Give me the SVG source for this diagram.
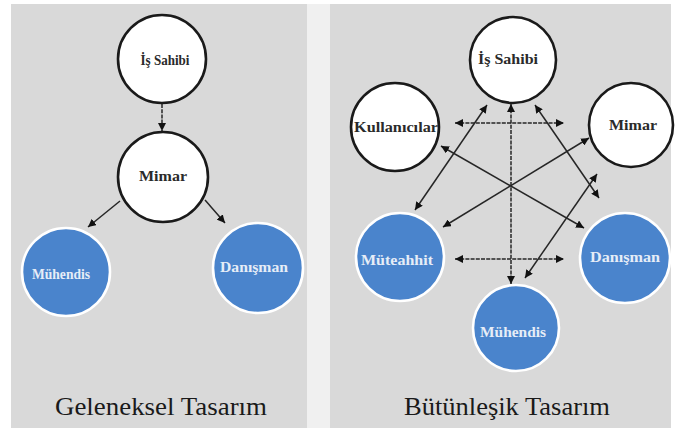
<svg xmlns="http://www.w3.org/2000/svg" width="675" height="436" viewBox="0 0 675 436">
  <style>
    .panel { fill: #d9d9d9; }
    .plain circle { fill: #ffffff; stroke: #1a1a1a; stroke-width: 2.6; }
    .plain text { fill: #2a2a2a; }
    .blue circle { fill: #4a84cc; stroke: #ffffff; stroke-width: 2.6; }
    .blue text { fill: #e6edf7; }
    text { font-family: "Liberation Serif", "Noto Serif", "DejaVu Serif", Tinos, FreeSerif, Times, serif; }
    .node text { font-weight: bold; font-size: 14px; text-anchor: middle; }
    .caption { font-size: 25px; fill: #1a1a1a; text-anchor: middle; }
    .link { stroke: #262626; stroke-width: 1.5; fill: none; }
    .dash { stroke-dasharray: 4 1.2; }
    .one { marker-end: url(#head); }
    .two { marker-start: url(#tail); marker-end: url(#head); }
  </style>
  <defs>
    <marker id="head" viewBox="0 0 10 10" refX="10" refY="5" markerWidth="8" markerHeight="8" markerUnits="userSpaceOnUse" orient="auto">
      <path d="M0,0 L10,5 L0,10 Z" fill="#111"/>
    </marker>
    <marker id="tail" viewBox="0 0 10 10" refX="0" refY="5" markerWidth="8" markerHeight="8" markerUnits="userSpaceOnUse" orient="auto">
      <path d="M10,0 L0,5 L10,10 Z" fill="#111"/>
    </marker>
  </defs>

  <!-- background panels -->
  <rect x="0" y="0" width="675" height="436" fill="#ffffff"/>
  <rect x="307" y="4" width="23" height="424" fill="#f0f0f0"/>
  <rect class="panel" x="11" y="4" width="296" height="424"/>
  <rect class="panel" x="330" y="4" width="341" height="424"/>

  <!-- traditional design: connectors -->
  <g id="connectors-left">
    <line class="link dash one" x1="162" y1="104" x2="162" y2="131"/>
    <line class="link one" x1="120" y1="201" x2="88" y2="227"/>
    <line class="link one" x1="205" y1="200" x2="225" y2="223"/>
  </g>

  <!-- traditional design: nodes -->
  <g id="left-is-sahibi" class="node plain">
    <circle cx="162" cy="59" r="44"/>
    <text x="165" y="65" textLength="49" lengthAdjust="spacingAndGlyphs">İş Sahibi</text>
  </g>
  <g id="left-mimar" class="node plain">
    <circle cx="163" cy="177" r="45"/>
    <text x="163" y="181" textLength="48" lengthAdjust="spacingAndGlyphs">Mimar</text>
  </g>
  <g id="left-muhendis" class="node blue">
    <circle cx="66" cy="272" r="44"/>
    <text x="61" y="279" textLength="58" lengthAdjust="spacingAndGlyphs">Mühendis</text>
  </g>
  <g id="left-danisman" class="node blue">
    <circle cx="258" cy="268" r="45"/>
    <text x="254" y="272" textLength="68" lengthAdjust="spacingAndGlyphs">Danışman</text>
  </g>

  <text class="caption" x="161" y="415" textLength="212" lengthAdjust="spacingAndGlyphs">Geleneksel Tasarım</text>

  <!-- integrated design: connectors -->
  <g id="connectors-right">
    <line class="link dash two" x1="455" y1="123" x2="564" y2="123"/>
    <line class="link dash two" x1="511" y1="104" x2="511" y2="284"/>
    <line class="link dash two" x1="455" y1="259" x2="564" y2="259"/>
    <line class="link two" x1="487" y1="105" x2="415" y2="210"/>
    <line class="link two" x1="441" y1="146" x2="584" y2="228"/>
    <line class="link two" x1="589" y1="138" x2="443" y2="227"/>
    <line class="link two" x1="535" y1="105" x2="599" y2="198"/>
    <line class="link two" x1="597" y1="174" x2="525" y2="278"/>
  </g>

  <!-- integrated design: nodes -->
  <g id="right-is-sahibi" class="node plain">
    <circle cx="513" cy="60" r="43"/>
    <text x="508" y="64" textLength="60" lengthAdjust="spacingAndGlyphs">İş Sahibi</text>
  </g>
  <g id="right-kullanicilar" class="node plain">
    <circle cx="395" cy="127" r="44"/>
    <text x="396" y="132" textLength="84" lengthAdjust="spacingAndGlyphs">Kullanıcılar</text>
  </g>
  <g id="right-mimar" class="node plain">
    <circle cx="631" cy="125" r="42"/>
    <text x="633" y="130" textLength="48" lengthAdjust="spacingAndGlyphs">Mimar</text>
  </g>
  <g id="right-muteahhit" class="node blue">
    <circle cx="400" cy="257" r="44"/>
    <text x="397" y="265" textLength="72" lengthAdjust="spacingAndGlyphs">Müteahhit</text>
  </g>
  <g id="right-danisman" class="node blue">
    <circle cx="625" cy="258" r="45"/>
    <text x="625" y="262" textLength="70" lengthAdjust="spacingAndGlyphs">Danışman</text>
  </g>
  <g id="right-muhendis" class="node blue">
    <circle cx="516" cy="328" r="43"/>
    <text x="513" y="337" textLength="66" lengthAdjust="spacingAndGlyphs">Mühendis</text>
  </g>

  <text class="caption" x="507" y="415" textLength="206" lengthAdjust="spacingAndGlyphs">Bütünleşik Tasarım</text>
</svg>
